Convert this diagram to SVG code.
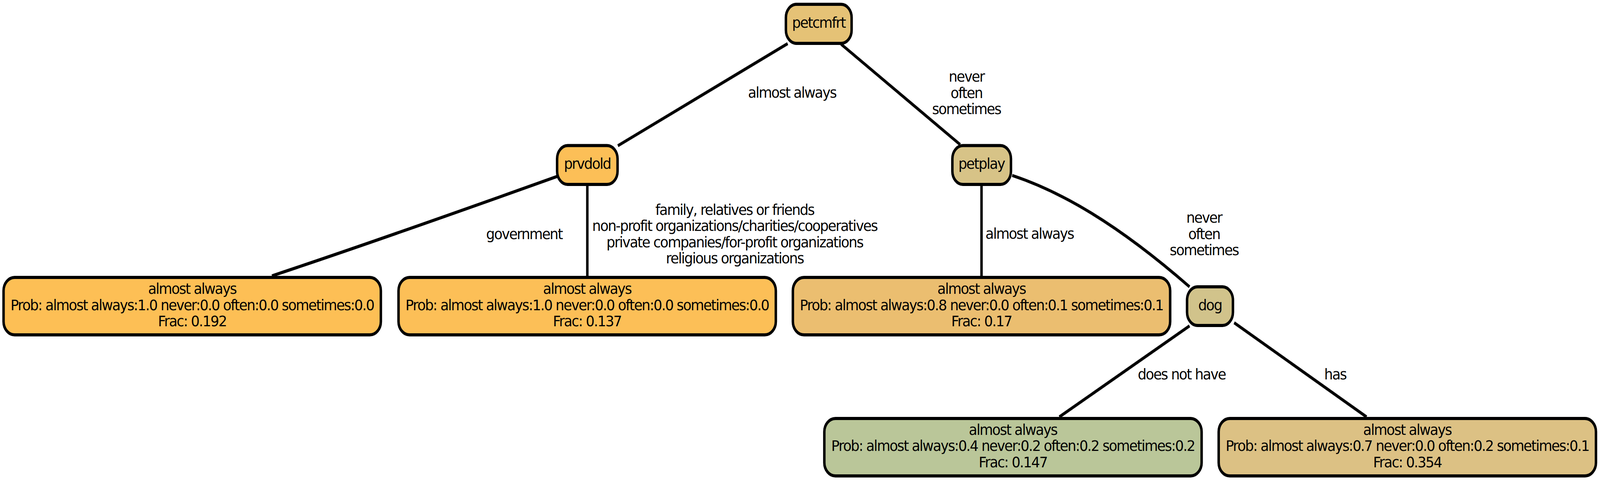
<svg xmlns="http://www.w3.org/2000/svg" width="5161" height="1231" viewBox="0 0 5161 1231" preserveAspectRatio="none" style="width:100%;height:100%">
<style>
.bg{fill:#ffffff}
.edge{fill:none;stroke:#000000;stroke-width:8}
.node rect{stroke:#000000;stroke-width:8}
text{font-family:"DejaVu Sans","Liberation Sans",sans-serif;font-size:37px;letter-spacing:-2.08px;fill:#000000;text-anchor:middle}
</style>
<rect class="bg" x="0" y="0" width="5161" height="1231"/>
<g id="connectors">
<line class="edge" x1="2540.6" y1="111.7" x2="1993" y2="373"/>
<line class="edge" x1="2713" y1="113" x2="3097" y2="370"/>
<path class="edge" d="M1796.7,451.7 C1500,536 1150,634 877,706"/>
<line class="edge" x1="1894.5" y1="472" x2="1894.5" y2="710"/>
<line class="edge" x1="3166" y1="472" x2="3166" y2="710"/>
<path class="edge" d="M3265,449 C3420,490 3600,570 3837,734"/>
<line class="edge" x1="3837" y1="834" x2="3417" y2="1067"/>
<line class="edge" x1="3981" y1="826" x2="4408" y2="1067"/>
<text transform="matrix(1.2 0 0 1 2555 250)">almost always</text>
<text transform="matrix(1.2 0 0 1 3117.5 209)"><tspan x="0" y="0">never</tspan><tspan x="0" y="41.7">often</tspan><tspan x="0" y="83.4">sometimes</tspan></text>
<text transform="matrix(1.2 0 0 1 1691 611.7)">government</text>
<text transform="matrix(1.2 0 0 1 2370 550)"><tspan x="0" y="0">family, relatives or friends</tspan><tspan x="0" y="41.5">non-profit organizations/charities/cooperatives</tspan><tspan x="0" y="83">private companies/for-profit organizations</tspan><tspan x="0" y="124.5">religious organizations</tspan></text>
<text transform="matrix(1.2 0 0 1 3321 611)">almost always</text>
<text transform="matrix(1.2 0 0 1 3884 570)"><tspan x="0" y="0">never</tspan><tspan x="0" y="41.7">often</tspan><tspan x="0" y="83.4">sometimes</tspan></text>
<text transform="matrix(1.2 0 0 1 3811.6 971)">does not have</text>
<text transform="matrix(1.2 0 0 1 4307 971)">has</text>
</g>
<g id="petcmfrt" class="node">
<rect x="2535" y="11" width="212" height="100" rx="34" ry="34" fill="#E5C276"/>
<text transform="matrix(1.2 0 0 1 2641 70.5)">petcmfrt</text>
</g>
<g id="prvdold" class="node">
<rect x="1797" y="372.5" width="195" height="99.5" rx="34" ry="34" fill="#FCBF57"/>
<text transform="matrix(1.2 0 0 1 1894.5 432)">prvdold</text>
</g>
<g id="petplay" class="node">
<rect x="3072" y="372.5" width="189" height="99.5" rx="34" ry="34" fill="#D7C387"/>
<text transform="matrix(1.2 0 0 1 3166 432)">petplay</text>
</g>
<g id="dog" class="node">
<rect x="3829" y="734" width="148" height="99" rx="34" ry="34" fill="#D1C38B"/>
<text transform="matrix(1.2 0 0 1 3903 793.5)">dog</text>
</g>
<g id="leaf1" class="node">
<rect x="11.5" y="710" width="1217" height="147" rx="36" ry="34" fill="#FDBF55"/>
<text transform="matrix(1.2 0 0 1 620 752)"><tspan x="0" y="0">almost always</tspan><tspan x="0" y="41.7">Prob: almost always:1.0 never:0.0 often:0.0 sometimes:0.0</tspan><tspan x="0" y="83.4">Frac: 0.192</tspan></text>
</g>
<g id="leaf2" class="node">
<rect x="1285.5" y="710" width="1217" height="147" rx="36" ry="34" fill="#FCBF57"/>
<text transform="matrix(1.2 0 0 1 1894 752)"><tspan x="0" y="0">almost always</tspan><tspan x="0" y="41.7">Prob: almost always:1.0 never:0.0 often:0.0 sometimes:0.0</tspan><tspan x="0" y="83.4">Frac: 0.137</tspan></text>
</g>
<g id="leaf3" class="node">
<rect x="2557.5" y="710" width="1217" height="147" rx="36" ry="34" fill="#EBBE70"/>
<text transform="matrix(1.2 0 0 1 3166 752)"><tspan x="0" y="0">almost always</tspan><tspan x="0" y="41.7">Prob: almost always:0.8 never:0.0 often:0.1 sometimes:0.1</tspan><tspan x="0" y="83.4">Frac: 0.17</tspan></text>
</g>
<g id="leaf4" class="node">
<rect x="2659" y="1071" width="1217" height="147" rx="36" ry="34" fill="#BAC699"/>
<text transform="matrix(1.2 0 0 1 3267.5 1112.6)"><tspan x="0" y="0">almost always</tspan><tspan x="0" y="41.7">Prob: almost always:0.4 never:0.2 often:0.2 sometimes:0.2</tspan><tspan x="0" y="83.4">Frac: 0.147</tspan></text>
</g>
<g id="leaf5" class="node">
<rect x="3931" y="1071" width="1217" height="147" rx="36" ry="34" fill="#DCC184"/>
<text transform="matrix(1.2 0 0 1 4539.5 1112.6)"><tspan x="0" y="0">almost always</tspan><tspan x="0" y="41.7">Prob: almost always:0.7 never:0.0 often:0.2 sometimes:0.1</tspan><tspan x="0" y="83.4">Frac: 0.354</tspan></text>
</g>
</svg>
